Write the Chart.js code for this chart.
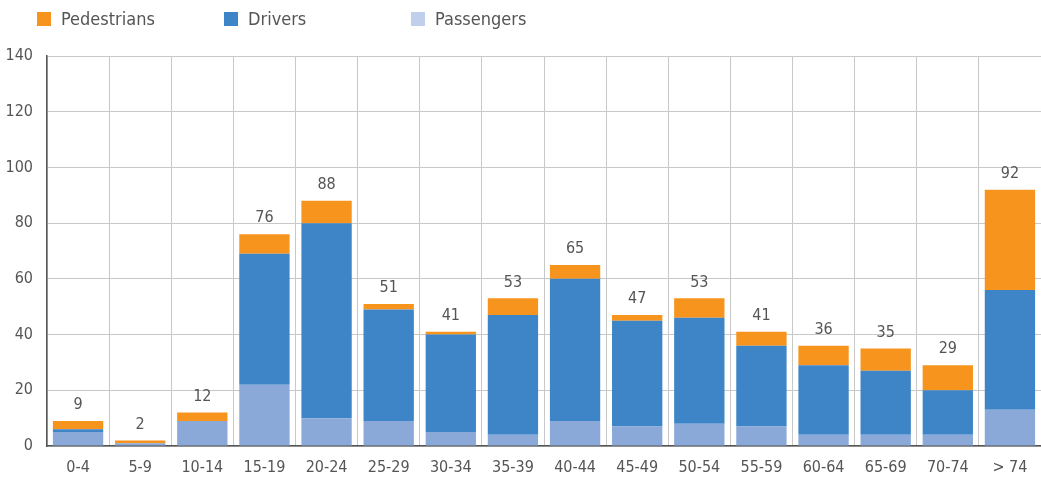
<!DOCTYPE html>
<html>
<head>
<meta charset="utf-8">
<script src="https://cdn.jsdelivr.net/npm/chart.js@4.4.1/dist/chart.umd.min.js"></script>
<style>
  html, body { margin: 0; padding: 0; background: #fff; }
  #wrap { position: relative; width: 1041px; height: 484px; }
  #legenda { position: absolute; top: 0; left: 0; width: 1041px; height: 40px;
             font-family: 'Liberation Sans Narrow', 'DejaVu Sans Condensed', sans-serif;
             font-size: 18px; color: #555; }
  #legenda .item { position: absolute; top: 8px; display: flex; align-items: center; }
  #legenda .cx { width: 14px; height: 14px; margin-right: 10px; }
</style>
</head>
<body>
<div id="wrap">
  <div id="legenda"></div>
  <canvas id="grafico" width="1041" height="484"></canvas>
</div>
<script>
// Faixas etárias e vítimas por tipo
const FAIXAS = ['0-4', '5-9', '10-14', '15-19', '20-24', '25-29', '30-34', '35-39',
                '40-44', '45-49', '50-54', '55-59', '60-64', '65-69', '70-74', '> 74'];
const PASSAGEIROS = [5, 1, 9, 22, 10, 9, 5, 4, 9, 7, 8, 7, 4, 4, 4, 13];
const CONDUTORES  = [1, 0, 0, 47, 70, 40, 35, 43, 51, 38, 38, 29, 25, 23, 16, 43];
const PEDOES      = [3, 1, 3, 7, 8, 2, 1, 6, 5, 2, 7, 5, 7, 8, 9, 36];
const TICKS_Y = [0, 20, 40, 60, 80, 100, 120, 140];

const FONTE = "'Liberation Sans Narrow', 'DejaVu Sans Condensed', sans-serif";
const COR_TEXTO = '#555';

// legenda em HTML (a ordem e o espaçamento do original não batem com a do Chart.js)
const LEGENDA = [
    { nome: 'Pedestrians', cor: '#F7941D', x: 37 },
    { nome: 'Drivers', cor: '#3D85C6', x: 224 },
    { nome: 'Passengers', cor: '#C0D0EC', x: 411 }
];
const leg = document.getElementById('legenda');
LEGENDA.forEach((l) => {
    const div = document.createElement('div');
    div.className = 'item';
    div.style.left = l.x + 'px';
    div.innerHTML = `<span class="cx" style="background:${l.cor}"></span><span>${l.nome}</span>`;
    leg.appendChild(div);
});

// escreve o total acima de cada coluna
const totais = FAIXAS.map((_, i) => PASSAGEIROS[i] + CONDUTORES[i] + PEDOES[i]);
const pluginTotais = {
    id: 'totais',
    afterDatasetsDraw(chart) {
        const { ctx } = chart;
        const meta = chart.getDatasetMeta(2);
        ctx.save();
        ctx.font = '16px ' + FONTE;
        ctx.fillStyle = COR_TEXTO;
        ctx.textAlign = 'center';
        ctx.textBaseline = 'bottom';
        meta.data.forEach((bar, i) => {
            const y = chart.scales.y.getPixelForValue(totais[i]);
            ctx.fillText(totais[i], bar.x, y - 8);
        });
        ctx.restore();
    }
};

new Chart(document.getElementById('grafico'), {
    type: 'bar',
    data: {
        labels: FAIXAS,
        datasets: [
            { label: 'Passengers', data: PASSAGEIROS, backgroundColor: '#8AA9D9' },
            { label: 'Drivers', data: CONDUTORES, backgroundColor: '#3D85C6' },
            { label: 'Pedestrians', data: PEDOES, backgroundColor: '#F7941D' }
        ]
    },
    options: {
        responsive: false,
        animation: false,
        layout: { padding: { top: 56, right: 0, bottom: 0, left: 0 } },
        plugins: { legend: { display: false }, tooltip: { enabled: false } },
        datasets: { bar: { barPercentage: 0.81, categoryPercentage: 1, borderWidth: 0 } },
        scales: {
            x: {
                stacked: true,
                afterFit: (s) => { s.height = 38; },
                grid: { offset: true, color: '#c8c8c8', lineWidth: 1, drawTicks: false },
                border: { color: '#555', width: 1.5 },
                ticks: { color: COR_TEXTO, font: { family: FONTE, size: 16 }, padding: 12, maxRotation: 0 }
            },
            y: {
                stacked: true,
                min: 0,
                max: 140,
                afterBuildTicks: (s) => { s.ticks = TICKS_Y.map((v) => ({ value: v })); },
                afterFit: (s) => { s.width = 47; },
                grid: { color: '#c8c8c8', lineWidth: 1, drawTicks: false },
                border: { color: '#555', width: 1.5 },
                ticks: { color: COR_TEXTO, font: { family: FONTE, size: 16 }, padding: 14 }
            }
        }
    },
    plugins: [pluginTotais]
});
</script>
</body>
</html>
